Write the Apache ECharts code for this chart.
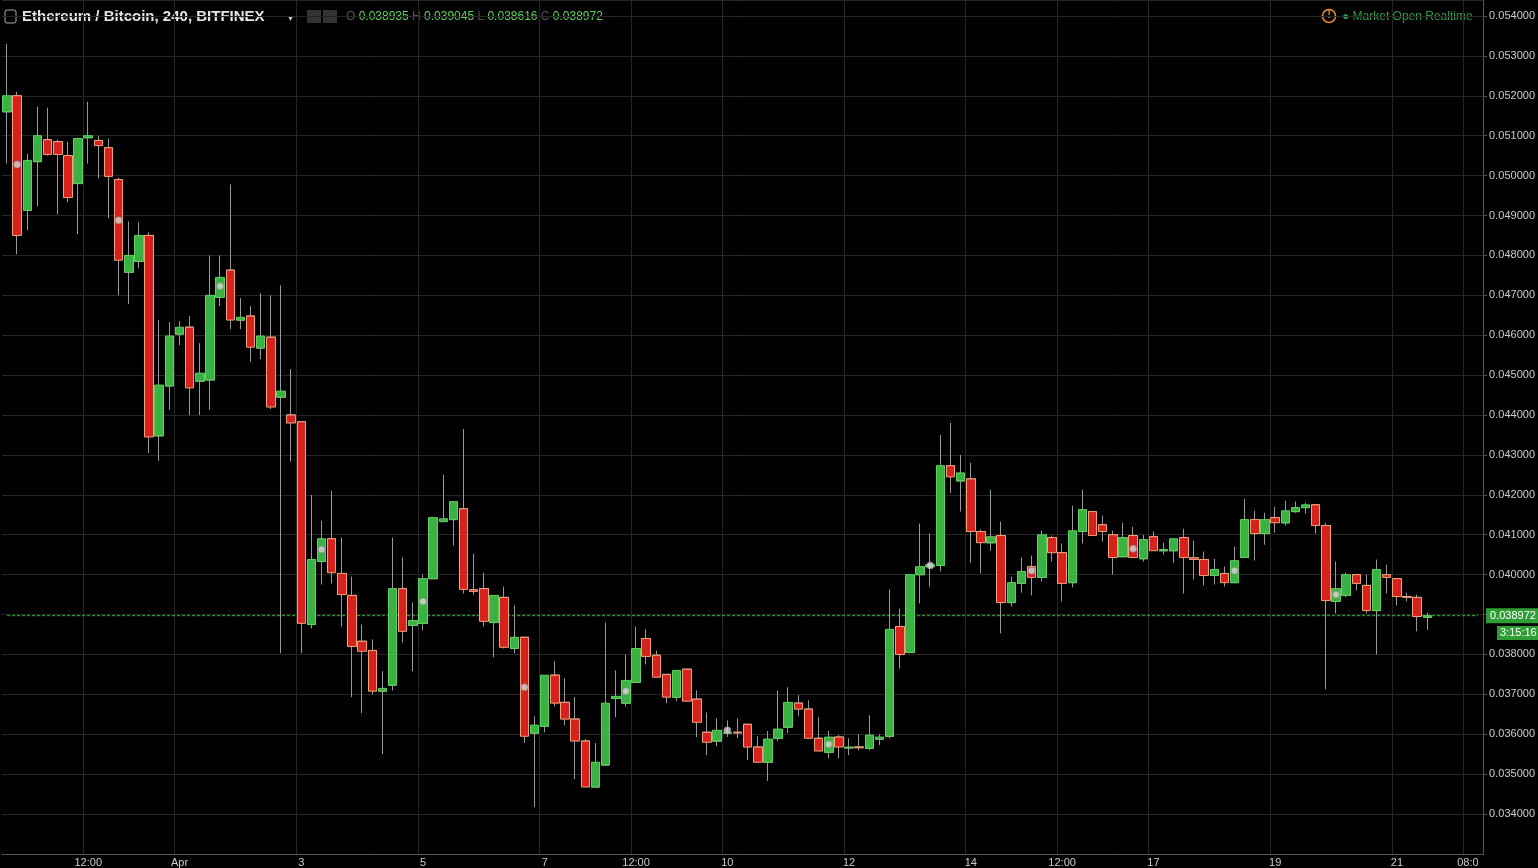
<!DOCTYPE html>
<html><head><meta charset="utf-8">
<script src="https://cdn.jsdelivr.net/npm/echarts@6/dist/echarts.min.js"></script>
<style>html,body{margin:0;padding:0;background:#000;}#c{width:1538px;height:868px;}</style>
</head><body><div id="c"></div>
<script>
// [open, close, low, high]
const candles = [
[0.05160,0.05200,0.05030,0.05330],[0.05200,0.04850,0.04803,0.05210],[0.04913,0.05038,0.04863,0.05055],[0.05035,0.05100,0.04923,0.05173],
[0.05090,0.05053,0.05050,0.05170],[0.05085,0.05053,0.04903,0.05090],[0.05050,0.04945,0.04933,0.05085],[0.04980,0.05093,0.04853,0.05095],
[0.05095,0.05100,0.05030,0.05185],[0.05088,0.05075,0.04993,0.05100],[0.05070,0.04998,0.04893,0.05093],[0.04990,0.04788,0.04700,0.04995],
[0.04758,0.04800,0.04678,0.04885],[0.04785,0.04850,0.04768,0.04883],[0.04850,0.04345,0.04305,0.04858],[0.04348,0.04475,0.04285,0.04638],
[0.04473,0.04598,0.04413,0.04633],[0.04603,0.04620,0.04575,0.04635],[0.04620,0.04468,0.04400,0.04648],[0.04485,0.04505,0.04400,0.04580],
[0.04488,0.04700,0.04413,0.04800],[0.04695,0.04745,0.04673,0.04800],[0.04763,0.04638,0.04615,0.04978],[0.04638,0.04645,0.04615,0.04693],
[0.04648,0.04570,0.04533,0.04673],[0.04568,0.04598,0.04540,0.04705],[0.04595,0.04420,0.04415,0.04700],[0.04445,0.04460,0.03803,0.04725],
[0.04400,0.04380,0.04283,0.04515],[0.04383,0.03878,0.03803,0.04385],[0.03875,0.04038,0.03865,0.04200],[0.04033,0.04090,0.03975,0.04135],
[0.04090,0.04005,0.03978,0.04210],[0.04003,0.03950,0.03870,0.04093],[0.03948,0.03820,0.03693,0.03995],[0.03833,0.03808,0.03653,0.03875],
[0.03810,0.03708,0.03700,0.03838],[0.03708,0.03715,0.03550,0.03758],[0.03723,0.03965,0.03710,0.04093],[0.03965,0.03858,0.03830,0.04043],
[0.03873,0.03885,0.03758,0.03930],[0.03878,0.03990,0.03860,0.04000],[0.03990,0.04143,0.03990,0.04145],[0.04133,0.04140,0.04133,0.04250],
[0.04138,0.04183,0.04073,0.04183],[0.04165,0.03963,0.03953,0.04365],[0.03962,0.03958,0.03950,0.04053],[0.03965,0.03883,0.03870,0.04005],
[0.03880,0.03948,0.03793,0.03948],[0.03943,0.03818,0.03815,0.03970],[0.03815,0.03843,0.03803,0.03923],[0.03843,0.03595,0.03578,0.03843],
[0.03603,0.03623,0.03418,0.03645],[0.03620,0.03748,0.03605,0.03748],[0.03748,0.03678,0.03670,0.03783],[0.03680,0.03638,0.03623,0.03740],
[0.03638,0.03583,0.03488,0.03693],[0.03583,0.03468,0.03468,0.03588],[0.03468,0.03530,0.03468,0.03578],[0.03523,0.03678,0.03523,0.03880],
[0.03690,0.03695,0.03643,0.03760],[0.03678,0.03735,0.03670,0.03800],[0.03730,0.03815,0.03728,0.03870],[0.03840,0.03795,0.03775,0.03863],
[0.03798,0.03743,0.03743,0.03810],[0.03750,0.03693,0.03678,0.03750],[0.03693,0.03760,0.03683,0.03760],[0.03763,0.03683,0.03683,0.03763],
[0.03688,0.03630,0.03593,0.03710],[0.03605,0.03580,0.03548,0.03655],[0.03583,0.03610,0.03570,0.03640],[0.03603,0.03605,0.03593,0.03635],
[0.03605,0.03603,0.03590,0.03640],[0.03625,0.03568,0.03535,0.03625],[0.03568,0.03530,0.03530,0.03595],[0.03530,0.03588,0.03483,0.03608],
[0.03590,0.03613,0.03583,0.03710],[0.03618,0.03680,0.03603,0.03718],[0.03678,0.03663,0.03645,0.03698],[0.03663,0.03590,0.03590,0.03685],
[0.03590,0.03558,0.03558,0.03643],[0.03555,0.03593,0.03540,0.03608],[0.03593,0.03568,0.03540,0.03598],[0.03566,0.03568,0.03548,0.03590],
[0.03568,0.03566,0.03560,0.03600],[0.03565,0.03598,0.03560,0.03648],[0.03588,0.03593,0.03573,0.03600],[0.03595,0.03863,0.03590,0.03963],
[0.03870,0.03800,0.03765,0.03915],[0.03805,0.04000,0.03803,0.04000],[0.04000,0.04020,0.03928,0.04128],[0.04020,0.04025,0.03970,0.04103],
[0.04023,0.04273,0.04008,0.04350],[0.04273,0.04245,0.04205,0.04380],[0.04235,0.04255,0.04158,0.04300],[0.04240,0.04108,0.04030,0.04280],
[0.04108,0.04080,0.04003,0.04113],[0.04080,0.04095,0.04060,0.04213],[0.04098,0.03930,0.03853,0.04133],[0.03930,0.03980,0.03920,0.03995],
[0.03978,0.04008,0.03955,0.04043],[0.04020,0.03993,0.03948,0.04048],[0.03993,0.04100,0.03983,0.04110],[0.04093,0.04055,0.04033,0.04098],
[0.04055,0.03978,0.03933,0.04078],[0.03980,0.04110,0.03968,0.04173],[0.04108,0.04163,0.04078,0.04213],[0.04158,0.04098,0.04098,0.04160],
[0.04125,0.04108,0.04083,0.04148],[0.04100,0.04043,0.04000,0.04110],[0.04045,0.04093,0.04045,0.04130],[0.04098,0.04043,0.04043,0.04120],
[0.04040,0.04088,0.04033,0.04100],[0.04095,0.04060,0.04060,0.04108],[0.04060,0.04063,0.04050,0.04080],[0.04060,0.04090,0.04030,0.04090],
[0.04093,0.04043,0.03953,0.04115],[0.04042,0.04038,0.03988,0.04085],[0.04038,0.03998,0.03973,0.04058],[0.03998,0.04013,0.03975,0.04040],
[0.04003,0.03980,0.03970,0.04020],[0.03980,0.04035,0.03980,0.04070],[0.04043,0.04138,0.04043,0.04190],[0.04138,0.04103,0.04035,0.04160],
[0.04103,0.04138,0.04075,0.04155],[0.04143,0.04130,0.04105,0.04170],[0.04130,0.04160,0.04123,0.04185],[0.04158,0.04168,0.04155,0.04183],
[0.04168,0.04175,0.04153,0.04180],[0.04175,0.04123,0.04103,0.04175],[0.04123,0.03935,0.03713,0.04130],[0.03933,0.03965,0.03903,0.04033],
[0.03948,0.04000,0.03943,0.04005],[0.04000,0.03978,0.03960,0.04000],[0.03973,0.03910,0.03903,0.04000],[0.03910,0.04013,0.03800,0.04038],
[0.04000,0.03993,0.03953,0.04025],[0.03990,0.03945,0.03923,0.03990],[0.03945,0.03943,0.03933,0.03955],[0.03943,0.03895,0.03858,0.03950],
[0.038935,0.038972,0.038616,0.039045]
];
const dotIndex = [1,11,21,31,41,51,61,71,81,91,101,111,121,131];
const dotValue = [0.05028,0.04888,0.04723,0.04063,0.03933,0.03718,0.03708,0.03610,0.03575,0.04023,0.04010,0.04065,0.04010,0.03950];
const tickLabels = {8:'12:00',17:'Apr',29:'3',41:'5',53:'7',62:'12:00',71:'10',83:'12',95:'14',104:'12:00',113:'17',125:'19',137:'21',144:'08:0'};
const slotCount = 146;
const lastPrice = 0.038972;

const cats = Array.from({length: slotCount}, (_, i) => String(i));
const isTick = (i) => tickLabels[i] !== undefined;
const wickData = candles.map(c => [c[0], c[0], c[2], c[3]]);
const bodyData = candles.map(c => [c[0], c[1], Math.min(c[0], c[1]), Math.max(c[0], c[1])]);
const dots = dotIndex.map((d, k) => [String(d), dotValue[k]]);

const chart = echarts.init(document.getElementById('c'));
chart.setOption({
  backgroundColor: '#000',
  animation: false,
  grid: {left: 2, right: 54, top: -2, bottom: 14},
  xAxis: {
    type: 'category', data: cats, boundaryGap: true,
    axisLine: {show: true, lineStyle: {color: '#555'}},
    axisTick: {show: false},
    axisLabel: {interval: (i) => isTick(i), formatter: (v) => tickLabels[+v] || '', color: '#ccc', fontSize: 11, fontFamily: 'Liberation Sans', margin: 3},
    splitLine: {show: true, interval: (i) => isTick(i), lineStyle: {color: '#262626'}}
  },
  yAxis: {
    type: 'value', position: 'right', min: 0.033, max: 0.0544, interval: 0.001,
    axisLine: {show: true, lineStyle: {color: '#555'}},
    axisTick: {show: true, length: 4, lineStyle: {color: '#555'}},
    axisLabel: {color: '#ccc', fontSize: 11, fontFamily: 'Liberation Sans', formatter: (v) => v.toFixed(6), showMinLabel: false, showMaxLabel: false, margin: 6},
    splitLine: {show: true, lineStyle: {color: '#262626'}}
  },
  series: [
    {type: 'line', data: [['0', lastPrice], [String(slotCount - 1), lastPrice]], symbol: 'none', silent: true, z: 1,
     lineStyle: {color: '#2fbf2f', type: [3, 2], width: 1},
     endLabel: {show: true, formatter: lastPrice.toFixed(6), color: '#fff', backgroundColor: '#2f9f35', padding: [2, 4], fontSize: 11, fontFamily: 'Liberation Sans', distance: 8}},
    {type: 'candlestick', data: wickData, barWidth: 9,
     itemStyle: {color: '#999', color0: '#999', borderColor: '#999', borderColor0: '#999', borderWidth: 1}},
    {type: 'candlestick', data: bodyData, barWidth: 9,
     itemStyle: {color: '#3bb143', color0: '#d5221c', borderColor: '#5fd15f', borderColor0: '#f5a27a', borderWidth: 1}},
    {type: 'scatter', data: dots, symbolSize: 7, itemStyle: {color: '#d8d8d8', borderColor: '#888', borderWidth: 1}, z: 5}
  ],
  graphic: [
    {type: 'rect', shape: {x: 5, y: 10, width: 11, height: 13, r: 2}, style: {fill: 'none', stroke: '#aaa', lineWidth: 1}},
    {type: 'line', shape: {x1: 7, y1: 16.5, x2: 14, y2: 16.5}, style: {stroke: '#aaa', lineWidth: 1}},
    {type: 'text', left: 22, top: 9, style: {text: 'Ethereum / Bitcoin, 240, BITFINEX', fill: '#e6e6e6', fontSize: 15, fontWeight: 'bold', fontFamily: 'Liberation Sans'}},
    {type: 'text', left: 288, top: 13, style: {text: '▾', fill: '#ccc', fontSize: 10}},
    {type: 'rect', shape: {x: 307, y: 10, width: 14, height: 13}, style: {fill: '#333'}},
    {type: 'rect', shape: {x: 323, y: 10, width: 14, height: 13}, style: {fill: '#333'}},
    {type: 'text', left: 346, top: 11, style: {
      rich: {k: {fill: '#555', fontSize: 12, fontFamily: 'Liberation Sans'}, v: {fill: '#5fd35f', fontSize: 12, fontFamily: 'Liberation Sans'}},
      text: '{k|O} {v|0.038935} {k|H} {v|0.039045} {k|L} {v|0.038616} {k|C} {v|0.038972}'}},
    {type: 'circle', shape: {cx: 1329, cy: 16, r: 6.5}, style: {fill: 'none', stroke: '#e98b2d', lineWidth: 1.5}},
    {type: 'text', left: 1327.5, top: 10.5, style: {text: '!', fill: '#e98b2d', fontSize: 10, fontWeight: 'bold'}},
    {type: 'text', left: 1342, top: 11, style: {text: '● Market Open Realtime', fill: '#2e9c44', fontSize: 12, fontFamily: 'Liberation Sans'}},
    {type: 'rect', shape: {x: 1497, y: 626, width: 41, height: 14}, style: {fill: '#2f9f35'}},
    {type: 'text', left: 1500, top: 627, style: {text: '3:15:16', fill: '#fff', fontSize: 11, fontFamily: 'Liberation Sans'}}
  ]
});
</script></body></html>
